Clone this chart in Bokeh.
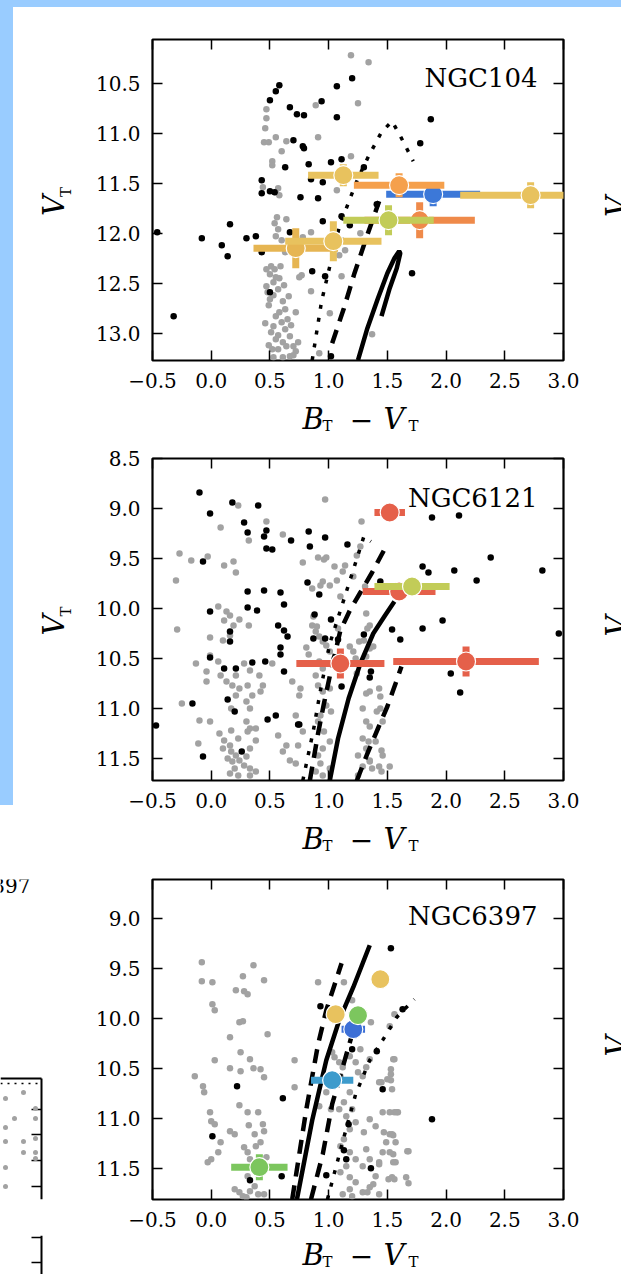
import math
from bokeh.plotting import figure
from bokeh.layouts import column, row
from bokeh.models import Range1d, LinearAxis, FixedTicker, Label, Div, CustomJSTickFormatter
from bokeh.core.properties import value
from bokeh.embed import file_html
from bokeh.resources import INLINE

# ------------------------------------------------------------------ data
X_TICKS = [-0.5, 0.0, 0.5, 1.0, 1.5, 2.0, 2.5, 3.0]

# NGC104
n104_name = "NGC104"
n104_yticks = [10.5, 11.0, 11.5, 12.0, 12.5, 13.0]
n104_gray_x = [1.19, 1.34, 1.25, 0.89, 0.47, 0.47, 0.46, 0.55, 0.45, 0.49, 0.64, 0.60, 0.91, 1.19, 0.52, 0.52,
               0.57, 0.55, 0.56, 0.64, 0.54, 0.57, 0.55, 0.60, 0.85, 0.78, 1.11, 0.63, 1.09, 0.51, 0.54, 0.50,
               0.55, 0.47, 0.53, 0.57, 0.50, 0.61, 0.63, 0.55, 0.60, 0.53, 0.63, 0.67, 0.55, 0.61, 0.70, 0.74,
               0.72, 0.53, 0.61, 0.77, 0.72, 0.85, 1.01, 1.11, 0.75, 1.37, 0.92, 1.27, 1.14, 1.07, 0.47, 0.59,
               0.48, 0.65, 0.51, 0.52, 0.67, 0.57, 0.44, 0.58, 0.58, 0.62, 0.49, 0.58, 0.68, 0.57, 0.64, 0.49,
               0.70, 0.46, 0.66, 0.53]
n104_gray_y = [10.22, 10.29, 10.70, 10.72, 10.76, 10.85, 10.95, 11.04, 11.09, 11.09, 11.08, 11.18, 11.04, 11.23,
               11.28, 11.32, 11.55, 11.59, 11.84, 11.86, 11.90, 11.96, 12.03, 12.07, 11.99, 12.04, 12.07, 12.19,
               12.22, 12.33, 12.36, 12.41, 12.44, 12.53, 12.49, 12.56, 12.66, 12.68, 12.76, 12.83, 12.89, 12.93,
               12.96, 13.03, 13.06, 13.09, 13.13, 13.09, 13.18, 13.24, 13.24, 12.42, 12.79, 12.58, 12.80, 12.43,
               12.44, 13.01, 13.20, 12.00, 12.17, 11.57, 12.36, 12.33, 12.59, 12.86, 12.99, 13.16, 13.23, 13.16,
               11.54, 11.62, 12.45, 12.52, 12.72, 12.79, 12.92, 13.02, 13.13, 13.12, 13.22, 12.90, 12.63, 12.62]
n104_black_x = [0.58, 0.55, 0.50, 0.67, 0.73, 0.79, 0.94, 1.07, 1.20, 1.07, 0.70, 0.78, 0.79, 0.63, 0.83, 1.02,
                1.11, 1.30, 0.43, 0.43, 0.50, 0.54, 0.76, 0.85, 0.95, 0.91, 0.95, 1.11, 1.18, 1.41, -0.46, -0.08,
                0.09, 0.14, 0.16, 0.30, 0.38, 0.43, 0.86, 0.97, 0.50, -0.32, 1.02, 1.71, 1.87, 1.78, 0.67]
n104_black_y = [10.52, 10.58, 10.67, 10.74, 10.81, 10.82, 10.68, 10.53, 10.45, 10.84, 11.07, 11.13, 11.15, 11.34,
                11.31, 11.29, 11.26, 11.34, 11.47, 11.60, 11.58, 11.59, 11.64, 11.46, 11.49, 11.65, 11.88, 11.83,
                11.92, 11.71, 11.99, 12.05, 12.12, 12.23, 11.91, 12.05, 12.03, 12.19, 12.38, 12.43, 12.59, 12.83,
                13.23, 12.40, 10.86, 11.10, 11.99]
n104_solid_x = [1.25, 1.33, 1.42, 1.50, 1.56, 1.60, 1.61, 1.58, 1.52, 1.45]
n104_solid_y = [13.27, 12.95, 12.65, 12.40, 12.25, 12.18, 12.20, 12.35, 12.55, 12.83]
n104_dash_x = [[1.03, 1.13, 1.22, 1.32, 1.43]]
n104_dash_y = [[13.10, 12.75, 12.40, 12.05, 11.68]]
n104_dot_x = [[0.86, 0.94, 1.01, 1.09, 1.17, 1.25, 1.34, 1.45, 1.54, 1.62, 1.72]]
n104_dot_y = [[13.27, 12.68, 12.33, 11.94, 11.69, 11.45, 11.23, 10.99, 10.88, 11.05, 11.28]]
n104_obs_x = [1.89, 2.72, 1.775, 1.51, 1.60, 1.125, 0.72, 1.04]
n104_obs_y = [11.61, 11.62, 11.87, 11.87, 11.52, 11.42, 12.15, 12.08]
n104_obs_xerr = [0.40, 0.60, 0.47, 0.385, 0.385, 0.30, 0.36, 0.41]
n104_obs_yerr = [0.12, 0.13, 0.18, 0.15, 0.12, 0.11, 0.20, 0.20]
n104_obs_color = ["#3C78D8", "#E8C25E", "#EF8A4A", "#C2CC58", "#F5A04C", "#E8C25E", "#E6B552", "#E8C25E"]

# NGC6121
n6121_name = "NGC6121"
n6121_yticks = [8.5, 9.0, 9.5, 10.0, 10.5, 11.0, 11.5]
n6121_gray_x = [0.97, 0.23, 0.08, 0.32, 0.47, 0.61, -0.27, -0.17, -0.03, 0.11, 0.19, 0.21, -0.30, 0.78, 0.96,
                1.12, 0.86, 0.95, 0.06, 0.13, 0.16, 0.11, 0.24, 0.32, 0.19, 0.16, 0.10, -0.29, -0.01, -0.01,
                -0.13, -0.04, -0.04, 0.06, 0.08, 0.13, 0.21, 0.18, 0.24, 0.21, 0.17, 0.30, 0.33, 0.35, 0.31,
                0.28, 0.33, 0.41, 0.42, 0.52, 0.44, -0.25, -0.10, -0.01, -0.11, 0.07, 0.11, 0.16, 0.10, 0.17,
                0.21, 0.14, 0.18, 0.24, 0.28, 0.33, 0.30, 0.33, 0.38, 0.30, 0.33, 0.38, 0.31, 0.17, 0.23,
                0.57, 0.64, 0.61, 0.67, 0.72, 0.20, 0.16, 0.23, 0.33, 0.38, 0.81, 0.83, 0.86, 0.89, 0.92,
                0.95, 0.98, 1.01, 1.05, 1.08, 0.92, 0.95, 0.89, 0.91, 0.95, 1.01, 0.98, 1.02, 0.93, 0.91,
                0.96, 1.01, 0.95, 0.91, 0.93, 1.01, 0.95, 0.89, 1.18, 1.21, 1.17, 1.23, 1.26, 1.33, 1.35,
                1.35, 1.29, 1.32, 1.29, 1.32, 1.35, 1.29, 1.25, 1.43, 1.44, 1.46, 1.40, 1.46, 1.43, 1.52,
                0.75, 0.72, 0.78, 0.74, 0.69, 0.76, 1.28, 1.27, 1.24, 1.14, 1.21, 1.31, 1.32, 1.35, 1.30,
                1.38, 1.32, 1.24, 1.32, 1.44, 1.41, 1.35, 1.34, 1.45, 1.35, 1.25, 1.45, 1.37, 0.91, 0.98,
                1.05, 1.07, 0.93, 1.01, 1.10, 0.87, 0.90]
n6121_gray_y = [8.91, 8.97, 9.19, 9.32, 9.13, 9.26, 9.45, 9.52, 9.48, 9.57, 9.53, 9.64, 9.72, 9.54, 9.51,
                9.63, 9.80, 9.73, 9.98, 10.03, 10.07, 10.12, 10.11, 10.17, 10.17, 10.27, 10.32, 10.21, 10.29,
                10.47, 10.55, 10.63, 10.73, 10.53, 10.67, 10.73, 10.67, 10.77, 10.80, 10.87, 11.00, 10.93,
                11.00, 10.87, 10.77, 10.55, 10.62, 10.67, 10.83, 10.55, 10.77, 10.95, 11.12, 11.13, 11.35,
                11.25, 11.32, 11.37, 11.40, 11.43, 11.47, 11.50, 11.53, 11.52, 11.57, 11.60, 11.48, 11.40,
                11.32, 11.13, 11.20, 11.20, 11.23, 11.22, 11.30, 11.27, 11.37, 11.43, 11.52, 11.55, 11.60,
                11.65, 11.67, 11.67, 11.63, 10.39, 10.46, 10.17, 10.23, 10.28, 10.33, 10.37, 10.43, 10.50,
                10.20, 10.53, 10.60, 10.67, 10.77, 10.83, 10.80, 10.97, 11.03, 11.07, 11.13, 11.23, 11.33,
                11.40, 11.47, 11.55, 11.60, 11.67, 11.63, 10.38, 10.43, 10.55, 10.50, 10.33, 10.20, 10.40,
                10.83, 11.00, 11.13, 11.30, 11.40, 11.53, 11.58, 11.67, 10.80, 11.00, 11.13, 11.33, 11.47,
                11.58, 11.58, 10.87, 11.07, 11.23, 11.37, 10.73, 10.80, 9.13, 9.38, 9.47, 9.57, 9.68, 9.78,
                10.05, 10.17, 10.32, 10.38, 10.48, 10.65, 10.85, 10.88, 11.03, 11.18, 11.33, 11.42, 11.52,
                11.47, 11.63, 11.60, 9.49, 9.49, 9.58, 9.72, 9.77, 9.77, 9.88, 10.08, 10.18]
n6121_black_x = [-0.10, 0.18, 0.40, -0.01, 0.28, 0.31, 0.47, 0.45, 0.47, 0.52, 0.68, 0.83, 0.84, 0.97, 1.16,
                 -0.07, 0.31, 0.45, 0.59, 0.62, 0.82, 0.92, -0.01, 0.31, 0.39, 0.57, 0.62, 0.65, 0.88, 1.02,
                 0.16, 0.16, -0.01, 0.11, 0.21, 0.35, 0.46, 0.59, 0.59, 0.62, 0.87, 0.97, 1.08, 1.30, 1.54,
                 1.61, -0.16, 0.14, 0.20, 0.55, 0.48, 0.74, -0.47, -0.07, 0.26, 1.36, 1.88, 2.11, 2.38, 2.82,
                 2.07, 2.26, 1.80, 1.85, 1.44, 1.97, 1.80, 2.04, 2.12, 2.96, 1.35, 1.11, 0.75]
n6121_black_y = [8.84, 8.94, 8.97, 9.05, 9.14, 9.24, 9.22, 9.28, 9.40, 9.41, 9.32, 9.23, 9.38, 9.29, 9.36,
                 9.53, 9.83, 9.82, 9.84, 9.96, 9.74, 9.86, 10.03, 9.99, 10.02, 10.17, 10.22, 10.28, 10.06,
                 10.11, 10.23, 10.33, 10.49, 10.60, 10.60, 10.54, 10.53, 10.46, 10.39, 10.63, 10.30, 10.30,
                 10.31, 10.26, 10.21, 10.31, 10.95, 10.91, 11.03, 11.07, 11.11, 11.16, 11.17, 11.48, 11.43,
                 10.63, 9.09, 9.07, 9.49, 9.62, 9.62, 9.72, 9.58, 9.64, 9.73, 10.12, 10.20, 10.65, 10.84,
                 10.25, 10.69, 10.78, 11.16]
n6121_solid_x = [1.01, 1.08, 1.17, 1.27, 1.38, 1.48, 1.56]
n6121_solid_y = [11.72, 11.30, 10.90, 10.55, 10.25, 10.07, 9.93]
n6121_dash_x = [[0.84, 0.91, 0.96, 1.02, 1.10, 1.18, 1.27, 1.37, 1.47],
                [1.24, 1.33, 1.42, 1.50, 1.57, 1.62]]
n6121_dash_y = [[11.72, 11.25, 10.95, 10.62, 10.22, 10.02, 9.84, 9.64, 9.42],
                [11.72, 11.45, 11.20, 10.98, 10.75, 10.58]]
n6121_dot_x = [[0.78, 0.87, 0.93, 1.01, 1.10, 1.20, 1.30, 1.36]]
n6121_dot_y = [[11.72, 11.22, 10.82, 10.35, 10.02, 9.65, 9.28, 9.33]]
n6121_obs_x = [1.52, 1.60, 1.71, 1.10, 2.17]
n6121_obs_y = [9.04, 9.83, 9.78, 10.55, 10.53]
n6121_obs_xerr = [0.13, 0.31, 0.32, 0.375, 0.62]
n6121_obs_yerr = [0.03, 0.03, 0.03, 0.15, 0.15]
n6121_obs_color = ["#E5604A", "#E5604A", "#C2CC58", "#E5604A", "#E5604A"]

# NGC6397
n6397_name = "NGC6397"
n6397_yticks = [9.0, 9.5, 10.0, 10.5, 11.0, 11.5]
n6397_gray_x = [-0.08, -0.08, 0.01, 0.27, 0.36, 0.45, 0.21, 0.28, 0.31, 0.01, 0.03, 0.24, 0.27, 0.16, 0.48,
                0.25, 0.03, 0.33, 0.16, 0.25, 0.36, 0.42, 0.45, -0.14, -0.07, -0.06, 0.71, 0.71, 0.24, 0.31,
                0.40, -0.01, 0.00, 0.03, 0.32, 0.44, 0.37, 0.45, 0.42, 0.16, 0.20, 0.08, 0.06, 0.00, -0.03,
                0.28, 0.31, 0.33, 0.38, 0.47, 0.44, 0.31, 0.20, 0.24, 0.27, 0.33, 0.37, 0.40, 0.45, 0.30,
                0.91, 1.13, 1.20, 1.03, 1.05, 1.09, 1.12, 1.10, 1.18, 1.23, 1.25, 1.29, 1.27, 1.35, 1.32,
                1.56, 1.53, 1.50, 1.54, 1.43, 1.18, 1.13, 1.09, 1.15, 1.20, 1.23, 1.18, 1.13, 1.10, 1.18,
                1.23, 1.29, 1.15, 1.10, 1.18, 1.23, 1.18, 1.12, 1.20, 1.29, 1.35, 1.40, 1.43, 1.46, 1.49,
                1.47, 1.40, 1.35, 1.30, 1.32, 1.35, 1.56, 1.59, 1.54, 1.57, 1.52, 1.57, 1.54, 1.66, 1.67,
                1.46, 1.02, 0.98, 0.92, 1.55, 1.53, 1.53, 1.45, 1.52, 1.58, 1.52, 1.55, 1.68, 1.55, 1.55,
                1.43, 1.51, 1.56, 1.68, 1.38, 1.33, 1.43, 1.36, 1.56, 1.52]
n6397_gray_y = [9.44, 9.63, 9.64, 9.58, 9.47, 9.62, 9.72, 9.73, 9.76, 9.86, 9.92, 10.04, 10.03, 10.19, 10.16,
                10.34, 10.42, 10.41, 10.50, 10.53, 10.50, 10.51, 10.59, 10.58, 10.68, 10.74, 10.42, 10.69,
                10.87, 10.94, 10.94, 10.94, 11.03, 11.06, 11.07, 11.06, 11.16, 11.13, 11.24, 11.13, 11.16,
                11.24, 11.34, 11.41, 11.44, 11.29, 11.34, 11.41, 11.28, 11.39, 11.51, 11.58, 11.71, 11.74,
                11.78, 11.73, 11.68, 11.76, 11.76, 11.79, 9.64, 9.64, 9.82, 10.34, 10.39, 10.44, 10.49,
                10.58, 10.38, 10.44, 10.54, 10.58, 10.31, 10.41, 10.49, 10.41, 10.51, 10.61, 10.71, 10.64,
                10.74, 10.84, 10.91, 10.98, 10.91, 11.04, 11.11, 11.21, 11.28, 11.34, 11.41, 11.48, 11.48,
                11.54, 11.59, 11.64, 11.71, 11.76, 11.78, 11.74, 11.69, 11.58, 11.44, 11.34, 11.24, 11.14,
                11.08, 11.01, 11.14, 11.31, 11.41, 10.94, 10.94, 11.16, 11.24, 11.34, 11.44, 11.59, 11.59,
                11.33, 10.94, 10.91, 10.74, 10.88, 10.41, 10.56, 10.62, 10.64, 10.94, 10.94, 11.16, 11.17,
                11.33, 11.36, 11.44, 11.46, 11.61, 11.61, 11.65, 11.66, 11.74, 11.76, 10.04, 9.96, 10.08]
n6397_black_x = [1.53, 0.93, 1.63, 1.41, 1.20, 0.22, 0.61, 1.46, 1.17, 0.01, 1.88, 0.33, 0.60, 0.98, 1.36,
                 1.13, 1.15]
n6397_black_y = [9.30, 9.88, 9.91, 10.33, 10.31, 10.68, 10.80, 10.71, 11.06, 11.18, 11.01, 11.62, 11.58,
                 11.57, 11.50, 11.32, 11.41]
n6397_solid_x = [0.73, 0.86, 0.98, 1.09, 1.21, 1.35]
n6397_solid_y = [11.81, 11.02, 10.42, 10.02, 9.69, 9.27]
n6397_dash_x = [[0.69, 0.75, 0.81, 0.91, 0.98, 1.11],
                [0.85, 0.95, 1.03, 1.12, 1.21, 1.33]]
n6397_dash_y = [[11.81, 11.36, 10.91, 10.26, 9.92, 9.45],
                [11.81, 11.36, 10.86, 10.49, 10.12, 9.86]]
n6397_dot_x = [[0.99, 1.13, 1.23, 1.35, 1.46, 1.58, 1.73]]
n6397_dot_y = [[11.81, 11.19, 10.76, 10.42, 10.22, 9.99, 9.81]]
n6397_obs_x = [1.21, 1.44, 1.06, 1.25, 1.03, 0.41]
n6397_obs_y = [10.11, 9.61, 9.96, 9.97, 10.62, 11.49]
n6397_obs_xerr = [0.10, 0.0, 0.0, 0.05, 0.18, 0.24]
n6397_obs_yerr = [0.03, 0.0, 0.0, 0.0, 0.03, 0.13]
n6397_obs_color = ["#3C6FD6", "#E8C25E", "#E8C25E", "#7CC65E", "#3D9BCC", "#7CC65E"]

# neighbouring (cropped) panel at the lower left: a few of its stars, in its own pixel frame
edge_gray_x = [5, 23, 35, 35, 14, 5, 5, 23, 35, 23, 35, 35, 5, 5]
edge_gray_y = [219, 213, 229, 239, 239, 248, 262, 262, 259, 273, 273, 279, 288, 307]
edge_ticks = [230, 255, 281, 307]

# ------------------------------------------------------------------ styling helpers
FONT = "DejaVu Serif"
TICK_FS = "20px"
BLUE = "#99CCFF"
SHIFT = 0.4  # svg text baseline correction (fraction of font size)
FMT = CustomJSTickFormatter(code="return tick.toFixed(1).replace('-', '\u2212');")
BLANK = CustomJSTickFormatter(code="return '';")


def style_axis(ax, ticks, show_labels):
    ax.ticker = FixedTicker(ticks=ticks)
    ax.axis_line_color = None
    ax.major_tick_in = 10
    ax.major_tick_out = 0
    ax.major_tick_line_width = 1.5
    ax.major_tick_line_color = "black"
    ax.minor_tick_line_color = None
    if show_labels:
        ax.formatter = FMT
        ax.major_label_text_font = FONT
        ax.major_label_text_font_size = TICK_FS
        ax.major_label_text_color = "black"
        ax.major_label_standoff = 12
    else:
        ax.formatter = BLANK
        ax.major_label_text_font_size = "2px"
        ax.major_label_text_color = None
        ax.major_label_standoff = 0


def strip(w, frame_h, top=0, bottom=0):
    s = figure(frame_width=w, frame_height=frame_h, x_range=Range1d(0, w), y_range=Range1d(frame_h, 0),
               output_backend="svg", toolbar_location=None, min_border_left=0, min_border_right=0,
               min_border_top=top, min_border_bottom=bottom, x_axis_type=None, y_axis_type=None)
    s.outline_line_color = None
    s.background_fill_color = "white"
    s.border_fill_color = "white"
    return s


def txt(s, x, y, t, fs, style="normal", align="left", rotated=False):
    # (x, y): wanted position of the text baseline start
    if rotated:
        x = x - SHIFT * fs
    else:
        y = y - SHIFT * fs
    s.text(x=[x], y=[y], text=[t], text_font=value(FONT), text_font_size="%dpx" % fs,
           text_font_style=style, text_align=align, text_baseline="alphabetic",
           angle=(math.pi / 2 if rotated else 0.0), text_color="black")


def panel(name, yticks, ylo, yhi, frame_h, top, bottom, gx, gy, bx, by, sx, sy, dxs, dys, oxs, oys,
          ox, oy, oxe, oye, oc, name_dy):
    p = figure(frame_width=411, frame_height=frame_h, x_range=Range1d(-0.5, 3.0),
               y_range=Range1d(yhi, ylo), output_backend="svg", toolbar_location=None,
               min_border_left=72, min_border_right=40, min_border_top=top,
               min_border_bottom=bottom, background_fill_color="white", border_fill_color="white")
    p.grid.visible = False
    p.outline_line_color = "black"
    p.outline_line_width = 2.2
    style_axis(p.xaxis[0], X_TICKS, True)
    style_axis(p.yaxis[0], yticks, True)
    ax_top = LinearAxis()
    style_axis(ax_top, X_TICKS, False)
    p.add_layout(ax_top, "above")
    ax_right = LinearAxis()
    style_axis(ax_right, yticks, False)
    p.add_layout(ax_right, "right")

    p.scatter(gx, gy, size=6.5, color="#a2a2a2", line_color=None)
    p.scatter(bx, by, size=6.5, color="black", line_color=None)

    p.line(sx, sy, line_color="black", line_width=4.5)
    for xs, ys in zip(dxs, dys):
        p.line(xs, ys, line_color="black", line_width=4.5, line_dash="14 9")
    for xs, ys in zip(oxs, oys):
        p.line(xs, ys, line_color="black", line_width=3.5, line_dash="4 9")

    for x, y, xe, ye, c in zip(ox, oy, oxe, oye, oc):
        if xe > 0:
            p.segment(x0=[x - xe], y0=[y], x1=[x + xe], y1=[y], line_color=c, line_width=7)
        if ye > 0:
            p.segment(x0=[x], y0=[y - ye], x1=[x], y1=[y + ye], line_color=c, line_width=7)
        p.scatter([x], [y], size=19, fill_color=c, line_color="white", line_width=1.2)

    p.add_layout(Label(x=3.0, y=ylo, x_offset=-26, y_offset=name_dy, text=name, text_font=FONT,
                       text_font_size="26px", text_align="right", text_baseline="alphabetic",
                       text_color="black"))
    return p


def xlabel_strip(w, x0, h, base):
    # x0: page x of the strip's left edge, base: wanted baseline (strip pixels)
    s = strip(w, h)
    txt(s, 302 - x0, base, "B", 29, style="italic")
    txt(s, 322 - x0, base + 1.5, "T", 15)
    txt(s, 361 - x0, base, "\u2212", 28, align="center")
    txt(s, 383 - x0, base, "V", 29, style="italic")
    txt(s, 408 - x0, base + 1.5, "T", 15)
    return s


def left_strip(w, x0, frame_h, top, bottom, with_label):
    s = strip(w, frame_h, top, bottom)
    if with_label:
        c = frame_h / 2.0
        txt(s, 65 - x0, c + 16, "V", 29, style="italic", rotated=True)
        txt(s, 71 - x0, c - 3, "T", 15, rotated=True)
    return s


def right_strip(w, x0, frame_h, top, bottom):
    s = strip(w, frame_h, top, bottom)
    txt(s, 628 - x0, frame_h / 2.0 + 17, "V", 29, style="italic", rotated=True)
    return s


# ------------------------------------------------------------------ panels
p1 = panel(n104_name, n104_yticks, 10.063, 13.273, 321, 32, 40,
           n104_gray_x, n104_gray_y, n104_black_x, n104_black_y, n104_solid_x, n104_solid_y,
           n104_dash_x, n104_dash_y, n104_dot_x, n104_dot_y,
           n104_obs_x, n104_obs_y, n104_obs_xerr, n104_obs_yerr, n104_obs_color, -38)
p2 = panel(n6121_name, n6121_yticks, 8.5, 11.72, 322, 10, 40,
           n6121_gray_x, n6121_gray_y, n6121_black_x, n6121_black_y, n6121_solid_x, n6121_solid_y,
           n6121_dash_x, n6121_dash_y, n6121_dot_x, n6121_dot_y,
           n6121_obs_x, n6121_obs_y, n6121_obs_xerr, n6121_obs_yerr, n6121_obs_color, -39)
p3 = panel(n6397_name, n6397_yticks, 8.613, 11.813, 320, 11, 36,
           n6397_gray_x, n6397_gray_y, n6397_black_x, n6397_black_y, n6397_solid_x, n6397_solid_y,
           n6397_dash_x, n6397_dash_y, n6397_dot_x, n6397_dot_y,
           n6397_obs_x, n6397_obs_y, n6397_obs_xerr, n6397_obs_yerr, n6397_obs_color, -36)

# blocks 1-2 sit right of the blue highlight (page x 13..621); block 3 spans the full width
l1 = left_strip(67, 13, 321, 32, 40, True)
r1 = right_strip(18, 603, 321, 32, 40)
x1 = xlabel_strip(608, 13, 48, 30)
l2 = left_strip(67, 13, 322, 10, 40, True)
r2 = right_strip(18, 603, 322, 10, 40)
x2 = xlabel_strip(608, 13, 48, 30)
l3 = left_strip(80, 0, 320, 11, 36, False)
r3 = right_strip(18, 603, 320, 11, 36)
x3 = xlabel_strip(621, 0, 39, 31)

# cropped neighbouring panel at lower left (pixel frame of the strip)
l3.line([0, 41], [199, 199], line_color="black", line_width=2)
l3.line([41, 41], [199, 320], line_color="black", line_width=2)
l3.line([0, 41], [204, 204], line_color="black", line_width=1.5, line_dash="2 5")
l3.segment(x0=[31] * len(edge_ticks), y0=edge_ticks, x1=[41] * len(edge_ticks), y1=edge_ticks,
           line_color="black", line_width=1.3)
l3.scatter(edge_gray_x, edge_gray_y, size=5, color="#a2a2a2", line_color=None)
txt(l3, 30, 14, "NGC6397", 20, align="right")
x3.line([41, 41], [0, 39], line_color="black", line_width=2)
x3.segment(x0=[31, 31], y0=[2, 27], x1=[41, 41], y1=[2, 27], line_color="black", line_width=1.3)

top_blue = Div(width=621, height=7, styles={"background-color": BLUE}, margin=0)
left_blue = Div(width=13, height=798, styles={"background-color": BLUE}, margin=0)
upper = column(
    row(column(l1), p1, column(r1)), x1,
    row(column(l2), p2, column(r2)), x2,
)
layout = column(
    top_blue,
    row(column(left_blue, margin=0), upper, margin=0),
    row(column(l3), p3, column(r3)),
    x3,
    margin=0,
)

open("out.html", "w").write(file_html(layout, INLINE))
